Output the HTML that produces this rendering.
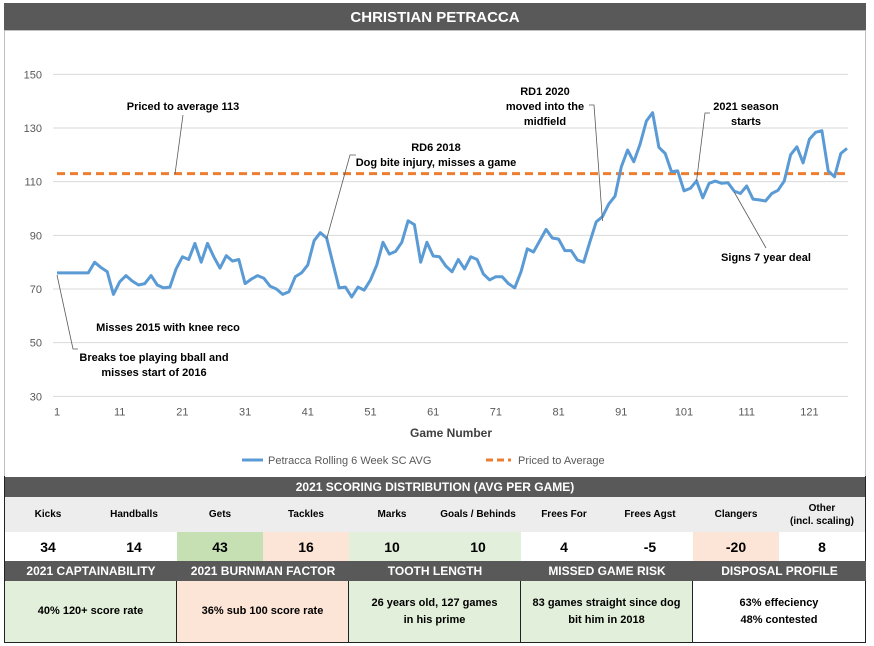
<!DOCTYPE html>
<html><head><meta charset="utf-8"><style>
body{margin:0;background:#fff;font-family:"Liberation Sans",sans-serif;}
#wrap{position:absolute;left:4px;top:3px;width:862px;height:640px;border:1px solid #222;box-sizing:border-box;}
.t{position:absolute;box-sizing:border-box;display:flex;align-items:center;justify-content:center;text-align:center;font-weight:bold;}
.dark{background:#595959;color:#fff;}
svg text{font-family:"Liberation Sans",sans-serif;}
</style></head><body>
<div id="wrap"></div>
<div class="t dark" style="left:4px;top:3px;width:862px;height:28px;font-size:15px;">CHRISTIAN PETRACCA</div>
<svg id="chart" width="874" height="476" style="position:absolute;left:0;top:0"></svg>
<div id="tbl"></div>
<script>
const games = [];
for (let g = 1; g <= 127; g++) games.push(g);
const rollingAvg = [76,76,76,76,76,76,80,78,76.5,68,72.7,75,73,71.5,72,75,71.5,70.4,70.7,77.5,82,81,87,80,87,82,77.8,82.4,80.4,81,72,73.7,75,74,71,70,68,69,74.6,76,79,88,91,89,79.6,70.4,70.7,67,70.7,69.6,73.4,79,87.4,83,84,87.4,95.4,94,80,87.4,82.3,82,78.6,76.4,81,77.5,82,81,75.6,73.4,74.6,74.6,72,70.4,76.4,85,83.8,88,92.2,89,88.6,84.3,84.3,80.8,80,87.6,95,97,101.7,104.6,115.5,121.8,117.4,124,132.6,135.7,122.8,120.5,113.7,114,106.6,107.5,110.3,104,109.4,110.2,109.4,109.6,106.5,105.6,108.4,103.5,103.2,102.8,105.6,106.8,110.3,120,123,117,125.8,128.4,129,114,111.8,120.5,122.4];
const pricedAvg = 113;
const yTicks = [30,50,70,90,110,130,150];
const xTicks = [1,11,21,31,41,51,61,71,81,91,101,111,121];

const NS='http://www.w3.org/2000/svg';
const svg=document.getElementById('chart');
const X=g=>57+(g-1)*6.27;
const Y=v=>289-(v-70)*2.6833;
function el(tag,attrs,parent){const e=document.createElementNS(NS,tag);for(const k in attrs)e.setAttribute(k,attrs[k]);(parent||svg).appendChild(e);return e;}
function txt(x,y,s,anchor,size,weight,fill){const t=el('text',{x:x,y:y,'text-anchor':anchor||'middle','font-size':size||11,'font-weight':weight||'normal',fill:fill||'#000'});t.textContent=s;return t;}

yTicks.forEach(v=>{
  const l=el('line',{x1:53,x2:848,y1:Y(v),y2:Y(v),stroke:'#d9d9d9','stroke-width':1});
  
  
  const t=txt(42,Y(v)+4,String(v),'end',11,'normal','#595959');
  
  
});
xTicks.forEach(g=>{
  const t=txt(X(g),Y(30)+19,String(g),'middle',11,'normal','#595959');
  
  
});
const xt=txt(451,437,'Game Number','middle',12,'bold','#404040');



const dash=el('line',{x1:X(games[0]),x2:X(games[games.length-1]),y1:Y(pricedAvg),y2:Y(pricedAvg),stroke:'#ed7d31','stroke-width':3,'stroke-dasharray':'8 5'});



const pts=rollingAvg.map((v,i)=>X(games[i]).toFixed(1)+','+Y(v).toFixed(1)).join(' ');
const line=el('polyline',{points:pts,fill:'none',stroke:'#5b9bd5','stroke-width':3,'stroke-linejoin':'round'});



// annotations
function leader(p,name){const l=el('polyline',{points:p,fill:'none',stroke:'#595959','stroke-width':0.8});}
function note(lines,x,y,name){const g=el('g',{});lines.forEach((s,i)=>{const t=el('text',{x:x,y:y+i*15,'text-anchor':'middle','font-size':11,'font-weight':'bold',fill:'#000'},g);t.textContent=s;});}
leader('175,174 183,115','priced-note-leader');
note(['Priced to average 113'],183,110,'priced-note');
leader(X(44)+',239 350,155 356,155','dog-bite-leader');
note(['RD6 2018','Dog bite injury, misses a game'],436,151,'dog-bite-note');
leader(X(88)+',221 594,105 589,105','midfield-leader');
note(['RD1 2020','moved into the','midfield'],545,95,'midfield-note');
leader(X(103)+',181 705,113 710,113','season-2021-leader');
note(['2021 season','starts'],746,110,'season-2021-note');
leader(X(109)+',192 766,248','seven-year-deal-leader');
note(['Signs 7 year deal'],766,261,'seven-year-deal-note');
leader(X(1)+',275 73,349 78,349','injury-leader');
note(['Misses 2015 with knee reco'],168,331,'knee-reco-note');
note(['Breaks toe playing bball and','misses start of 2016'],154,361,'broken-toe-note');

// legend
const lg=el('g',{});
el('line',{x1:242,x2:263,y1:460,y2:460,stroke:'#5b9bd5','stroke-width':3},lg);
let t1=el('text',{x:268,y:464,'font-size':11,fill:'#595959'},lg);t1.textContent='Petracca Rolling 6 Week SC AVG';
el('line',{x1:486,x2:511,y1:460,y2:460,stroke:'#ed7d31','stroke-width':3,'stroke-dasharray':'7 4'},lg);
let t2=el('text',{x:518,y:464,'font-size':11,fill:'#595959'},lg);t2.textContent='Priced to Average';
el('rect',{x:4.5,y:30.5,width:861,height:446,fill:'none',stroke:'#bfbfbf'});
</script>

<div class="t dark" style="left:5px;top:477px;width:860px;height:20px;font-size:12px;">2021 SCORING DISTRIBUTION (AVG PER GAME)</div>
<div id="stats"></div>
<script>
const statLabels=['Kicks','Handballs','Gets','Tackles','Marks','Goals / Behinds','Frees For','Frees Agst','Clangers','Other<br>(incl. scaling)'];
const statValues=['34','14','43','16','10','10','4','-5','-20','8'];
const statColors=['#fff','#fff','#c6e0b4','#fce4d6','#e2efda','#e2efda','#fff','#fff','#fce4d6','#fff'];
const box=document.getElementById('stats');
const cw=86;
statLabels.forEach((s,i)=>{
  const a=document.createElement('div');a.className='t';
  
  
  a.style.cssText=`left:${5+i*cw}px;top:497px;width:${cw}px;height:35px;background:#ededed;font-size:10px;line-height:13px;color:#000;`;
  a.innerHTML=s;box.appendChild(a);
  const b=document.createElement('div');b.className='t';
  
  
  b.style.cssText=`left:${5+i*cw}px;top:532px;width:${cw}px;height:29px;background:${statColors[i]};font-size:14px;`;
  b.textContent=statValues[i];box.appendChild(b);
});
const secTitles=['2021 CAPTAINABILITY','2021 BURNMAN FACTOR','TOOTH LENGTH','MISSED GAME RISK','DISPOSAL PROFILE'];
const secBodies=['40% 120+ score rate','36% sub 100 score rate','26 years old, 127 games<br>in his prime','83 games straight since dog<br>bit him in 2018','63% effeciency<br>48% contested'];
const secColors=['#e2efda','#fce4d6','#e2efda','#e2efda','#fff'];
const sw=172;
secTitles.forEach((s,i)=>{
  const a=document.createElement('div');a.className='t dark';
  
  
  a.style.cssText=`left:${5+i*sw}px;top:561px;width:${sw+(i==4?1:0)}px;height:20px;font-size:12px;`;
  a.textContent=s;box.appendChild(a);
  const b=document.createElement('div');b.className='t';
  
  
  b.style.cssText=`left:${5+i*sw}px;top:581px;width:${sw+(i==4?1:0)}px;height:61px;background:${secColors[i]};font-size:11px;line-height:17px;border-right:1px solid #222;`;
  b.innerHTML=secBodies[i];box.appendChild(b);
});
</script>
</body></html>
